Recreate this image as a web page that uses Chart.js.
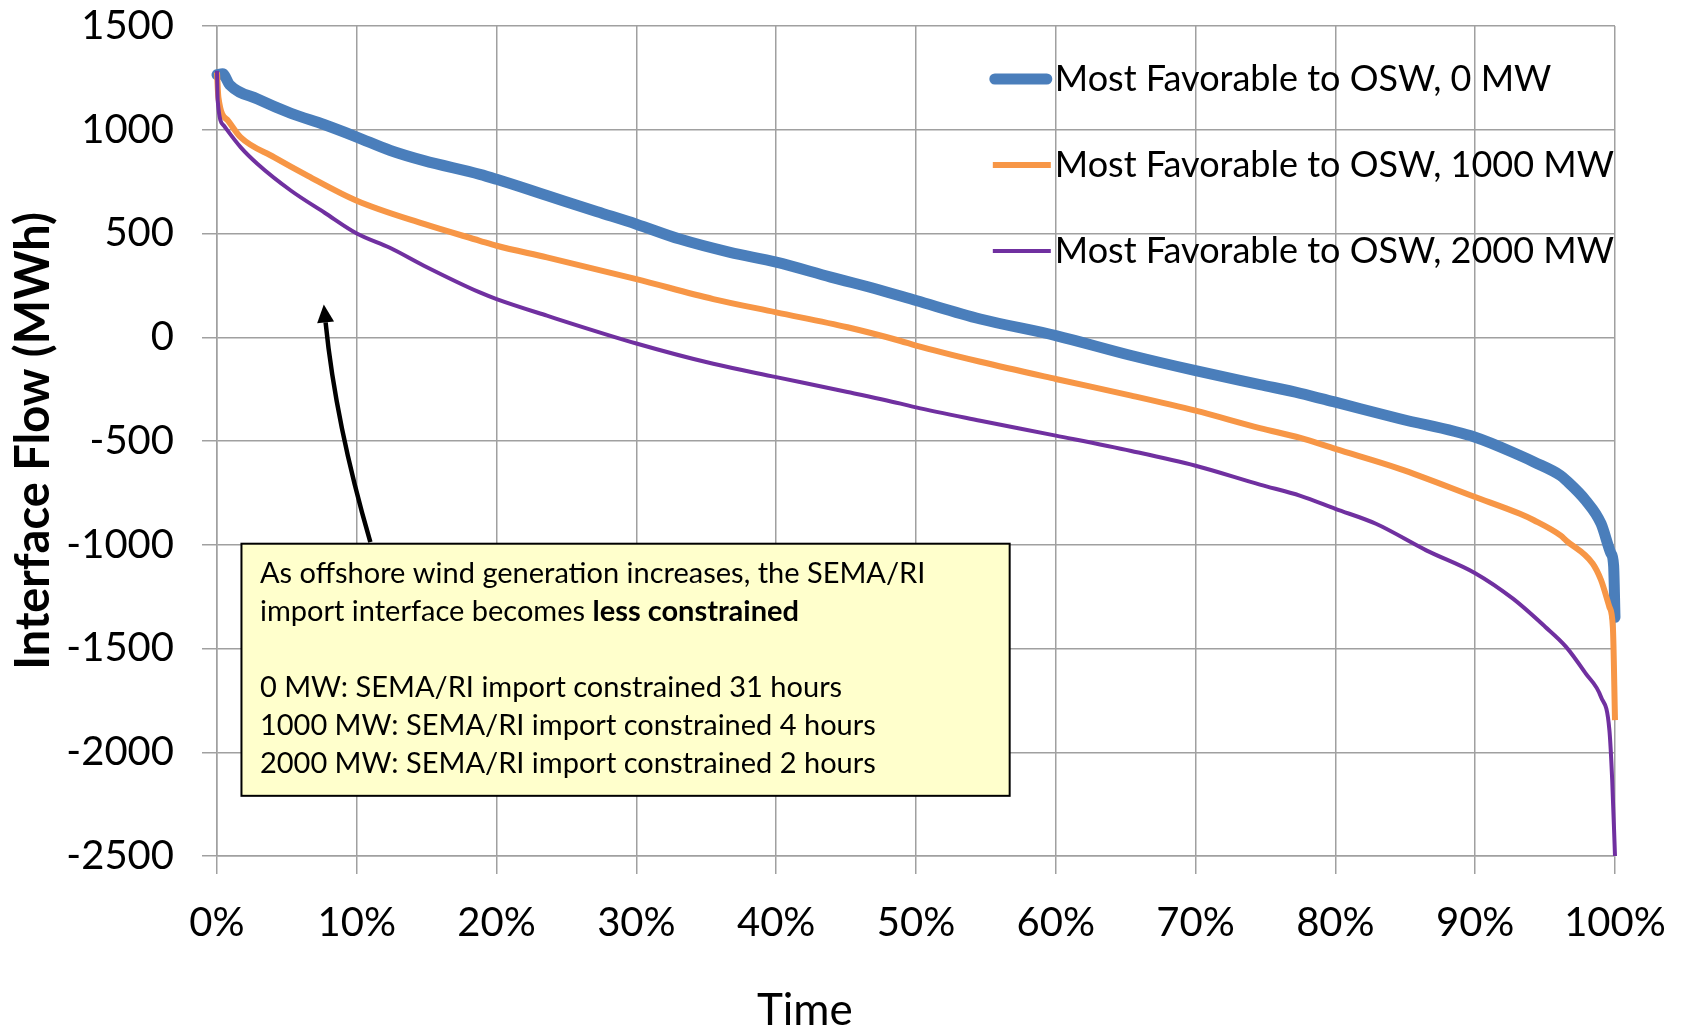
<!DOCTYPE html>
<html>
<head>
<meta charset="utf-8">
<script src="https://cdn.jsdelivr.net/npm/chart.js@4.4.1/dist/chart.umd.min.js"></script>
<style>
  html, body { margin: 0; padding: 0; background: #ffffff; overflow: hidden; }
  canvas { display: block; }
</style>
</head>
<body>
<canvas id="flowChart" width="1681" height="1027"></canvas>
<script>
// Interface flow duration curves (share of hours, sorted by flow)
const seriesLabels = [
  'Most Favorable to OSW, 0 MW',
  'Most Favorable to OSW, 1000 MW',
  'Most Favorable to OSW, 2000 MW'
];

// 0 MW offshore wind
const time0 = [0, 0.4, 0.9, 2.9, 5.3, 7.7, 10, 12.4, 14.8, 18.8, 20, 23.6, 27.2, 30, 33.1, 36.7, 40, 43.9, 47.4, 50, 54.6, 60, 65.4, 70, 74.6, 77.5, 80, 84.6, 90, 93.2, 94.2, 96.1, 96.5, 97.9, 99, 99.7, 99.9, 100];
const flow0 = [1265, 1270, 1217, 1148, 1079, 1024, 965, 900, 851, 785, 761, 683, 605, 545, 473, 409, 362, 290, 228, 177, 88, 8, -88, -161, -228, -270, -313, -393, -482, -570, -601, -666, -689, -786, -898, -1040, -1100, -1350];

// 1000 MW offshore wind
const time1 = [0, 0.1, 0.8, 1.7, 4.1, 6.5, 10, 14.8, 18.8, 20, 23.6, 30, 35.5, 40, 45.1, 48.9, 50, 54.6, 60, 65.4, 70, 74.6, 77.5, 80, 84.6, 90, 93.2, 94.2, 96.1, 96.5, 98.4, 99, 99.6, 99.85, 100];
const flow1 = [1276, 1156, 1043, 963, 867, 778, 658, 546, 465, 441, 385, 280, 184, 120, 48, -18, -40, -118, -201, -281, -354, -438, -485, -538, -634, -770, -851, -882, -955, -979, -1090, -1170, -1300, -1400, -1845];

// 2000 MW offshore wind
const time2 = [0, 0.05, 0.5, 1.7, 2.9, 5.3, 7.7, 10, 12.4, 14.8, 18.8, 20, 23.6, 30, 35.5, 40, 45.1, 48.9, 50, 54.6, 60, 65.4, 70, 74.6, 77.5, 80, 82.9, 86.5, 90, 92.7, 95, 96.5, 97.9, 99, 99.6, 99.8, 100];
const flow2 = [1284, 1140, 1019, 915, 835, 706, 600, 500, 430, 345, 216, 184, 104, -30, -128, -192, -264, -320, -338, -402, -474, -548, -619, -710, -764, -827, -899, -1027, -1137, -1260, -1395, -1492, -1620, -1734, -1894, -2135, -2500];

// Axis range and tick spacing
const yRange = [-2500, 1500];
const yStep = 500;
const xRange = [0, 100];
const xStep = 10;
const xTitle = 'Time';

// Callout text
const noteIntro = ['As offshore wind generation increases, the SEMA/RI', 'import interface becomes ', 'less constrained'];
const noteHours = [
  '0 MW: SEMA/RI import constrained 31 hours',
  '1000 MW: SEMA/RI import constrained 4 hours',
  '2000 MW: SEMA/RI import constrained 2 hours'
];

const FONT = 'Lato, Carlito, "Open Sans", sans-serif';

function toPoints(xs, ys) {
  return xs.map((x, i) => ({ x: x, y: ys[i] }));
}

// Legend laid over the plot area, the x-axis caption, and the callout box with its arrow
const overlayPlugin = {
  id: 'overlay',
  afterDraw(chart) {
    const ctx = chart.ctx;
    const area = chart.chartArea;
    const xs = chart.scales.x;
    const ys = chart.scales.y;

    // legend
    ctx.save();
    ctx.font = '36px ' + FONT;
    ctx.textBaseline = 'middle';
    ctx.fillStyle = '#000';
    const widths = chart.data.datasets.map(d => ctx.measureText(d.label).width);
    const maxW = Math.max(...widths);
    const textLeft = area.right - 1 - maxW;
    chart.data.datasets.forEach((d, i) => {
      const cy = area.top + 53 + i * 86;
      ctx.beginPath();
      ctx.strokeStyle = d.borderColor;
      ctx.lineWidth = i === 0 ? 11 : (i === 1 ? 6 : 4);
      ctx.lineCap = i === 0 ? 'round' : 'butt';
      const x0 = i === 0 ? textLeft - 60 : textLeft - 62;
      const x1 = i === 0 ? textLeft - 8 : textLeft - 4;
      ctx.moveTo(x0, cy);
      ctx.lineTo(x1, cy);
      ctx.stroke();
      ctx.fillText(d.label, textLeft, cy);
    });
    ctx.restore();

    // x-axis caption
    ctx.save();
    ctx.font = '44px ' + FONT;
    ctx.textAlign = 'center';
    ctx.textBaseline = 'middle';
    ctx.fillStyle = '#000';
    ctx.fillText(xTitle, xs.getPixelForValue(42.05), area.bottom + 155);
    ctx.restore();

    // callout box
    const bx0 = xs.getPixelForValue(1.75);
    const bx1 = xs.getPixelForValue(56.7);
    const by0 = ys.getPixelForValue(-995);
    const by1 = ys.getPixelForValue(-2210);
    ctx.save();
    ctx.fillStyle = '#ffffcc';
    ctx.fillRect(bx0, by0, bx1 - bx0, by1 - by0);
    ctx.strokeStyle = '#000';
    ctx.lineWidth = 2;
    ctx.strokeRect(bx0, by0, bx1 - bx0, by1 - by0);

    const tx = xs.getPixelForValue(3.07);
    ctx.fillStyle = '#000';
    ctx.textBaseline = 'middle';
    ctx.font = '29px ' + FONT;
    const line1 = by0 + 30;
    const gap = 37.7;
    ctx.fillText(noteIntro[0], tx, line1);
    ctx.fillText(noteIntro[1], tx, line1 + gap);
    const w = ctx.measureText(noteIntro[1]).width;
    ctx.font = 'bold 29px ' + FONT;
    ctx.fillText(noteIntro[2], tx + w, line1 + gap);
    ctx.font = '29px ' + FONT;
    noteHours.forEach((t, i) => {
      ctx.fillText(t, tx, line1 + gap * 3 + 1 + i * gap);
    });
    ctx.restore();

    // arrow from the box toward the curves
    const ax0 = xs.getPixelForValue(10.97), ay0 = ys.getPixelForValue(-987);
    const acx = xs.getPixelForValue(8.49), acy = ys.getPixelForValue(-416);
    const ax1 = xs.getPixelForValue(7.64), ay1 = ys.getPixelForValue(158);
    const ang = Math.atan2(ay1 - acy, ax1 - acx);
    const headLen = 18, headHalf = 8.5;
    const bxh = ax1 - headLen * Math.cos(ang), byh = ay1 - headLen * Math.sin(ang);
    ctx.save();
    ctx.strokeStyle = '#000';
    ctx.fillStyle = '#000';
    ctx.lineWidth = 4.5;
    ctx.beginPath();
    ctx.moveTo(ax0, ay0);
    ctx.quadraticCurveTo(acx, acy, bxh, byh);
    ctx.stroke();
    ctx.beginPath();
    ctx.moveTo(ax1, ay1);
    ctx.lineTo(bxh + headHalf * Math.sin(ang), byh - headHalf * Math.cos(ang));
    ctx.lineTo(bxh - headHalf * Math.sin(ang), byh + headHalf * Math.cos(ang));
    ctx.closePath();
    ctx.fill();
    ctx.restore();
  }
};

const gridColor = '#a0a0a0';

new Chart(document.getElementById('flowChart'), {
  type: 'line',
  data: {
    datasets: [
      { label: seriesLabels[0], data: toPoints(time0, flow0), borderColor: '#4a7ebb', borderWidth: 11, order: 3, borderCapStyle: 'round' },
      { label: seriesLabels[1], data: toPoints(time1, flow1), borderColor: '#f79646', borderWidth: 6, order: 2 },
      { label: seriesLabels[2], data: toPoints(time2, flow2), borderColor: '#7030a0', borderWidth: 4, order: 1 }
    ]
  },
  options: {
    responsive: false,
    animation: false,
    devicePixelRatio: 1,
    layout: { padding: { left: 0, right: 66, top: 26, bottom: 0 } },
    elements: {
      point: { radius: 0, hoverRadius: 0 },
      line: { cubicInterpolationMode: 'monotone', borderJoinStyle: 'round', fill: false }
    },
    datasets: { line: { clip: 8 } },
    plugins: { legend: { display: false }, tooltip: { enabled: false } },
    scales: {
      x: {
        type: 'linear',
        min: xRange[0],
        max: xRange[1],
        afterFit(scale) {
          scale.height = 171;
          scale.paddingLeft = 0;
          scale.paddingRight = 0;
        },
        ticks: {
          stepSize: xStep,
          autoSkip: false,
          maxRotation: 0,
          padding: 25,
          color: '#000',
          font: { family: FONT, size: 40 },
          callback: v => v + '%'
        },
        grid: { color: gridColor, lineWidth: 1.5, tickLength: 18, tickColor: gridColor },
        border: { color: gridColor, width: 1.5 },
        title: { display: false }
      },
      y: {
        min: yRange[0],
        max: yRange[1],
        afterFit(scale) {
          scale.width = 217;
          scale.paddingTop = 0;
          scale.paddingBottom = 0;
        },
        ticks: {
          stepSize: yStep,
          padding: 28,
          color: '#000',
          font: { family: FONT, size: 40 },
          callback: v => String(v)
        },
        grid: { color: gridColor, lineWidth: 1.5, tickLength: 15, tickColor: gridColor },
        border: { color: gridColor, width: 1.5 },
        title: {
          display: true,
          text: 'Interface Flow (MWh)',
          color: '#000',
          font: { family: FONT, size: 47, weight: 'bold', lineHeight: 1.2 },
          padding: { top: 6, bottom: 0 }
        }
      }
    }
  },
  plugins: [overlayPlugin]
});
</script>
</body>
</html>
